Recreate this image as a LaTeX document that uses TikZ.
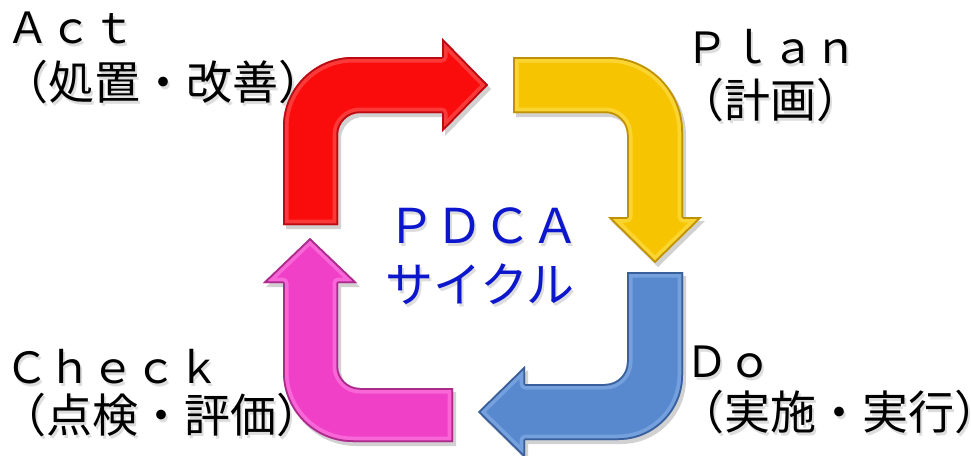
\documentclass[tikz,border=0pt]{standalone}
\usepackage{fontspec}
\newfontfamily\jpfont{Noto Sans CJK JP}
\definecolor{pdcablue}{RGB}{12,22,205}
\definecolor{actbase}{RGB}{250,12,12}
\definecolor{actdark}{RGB}{170,0,10}
\definecolor{actlight}{RGB}{255,95,95}
\definecolor{planbase}{RGB}{246,196,0}
\definecolor{plandark}{RGB}{176,128,0}
\definecolor{planlight}{RGB}{255,228,90}
\definecolor{dobase}{RGB}{88,136,206}
\definecolor{dodark}{RGB}{44,80,140}
\definecolor{dolight}{RGB}{140,180,235}
\definecolor{chkbase}{RGB}{240,64,200}
\definecolor{chkdark}{RGB}{150,30,120}
\definecolor{chklight}{RGB}{255,135,230}

% bent arrow with soft shadow, bevelled rim and dark edge
% #1 path, #2 body colour, #3 rim colour, #4 highlight colour
\newcommand\bentarrow[4]{%
  \fill[black,opacity=0.18,xshift=3pt,yshift=-4pt] #1;
  \fill[#2] #1;
  \begin{scope}
    \clip #1;
    \draw[#4,line width=11pt,opacity=0.55,line join=round] #1;
    \draw[#3,line width=3.5pt,opacity=0.8,line join=round] #1;
  \end{scope}
}

% text with a soft drop shadow: #1 name, #2 position, #3 style, #4 text
\newcommand\softlabel[4]{%
  \node[#3,text=black!60,opacity=0.22,xshift=2pt,yshift=-3.5pt] at (#2) {#4};
  \node[#3] (#1) at (#2) {#4};
}
% full-width brackets whose blank half is trimmed from the box
\newcommand\lbr{\makebox[0.5em][r]{（}}
\newcommand\rbr{\makebox[0.5em][l]{）}}

\begin{document}
\begin{tikzpicture}[x=1pt,y=-1pt,
  eng/.style={anchor=base west,inner sep=0pt,font=\jpfont\fontsize{43}{43}\selectfont},
  jp/.style={anchor=base west,inner sep=0pt,font=\jpfont\fontsize{46}{46}\selectfont},
  ctr/.style={anchor=base,inner sep=0pt,text=pdcablue,font=\jpfont\fontsize{48}{48}\selectfont}]
\useasboundingbox (0,0) rectangle (971,455);
\fill[white] (0,0) rectangle (971,455);

% Act: up then right
\bentarrow{(283,225) -- (283,127) .. controls (283,88.3) and (314.3,57) .. (353,57) -- (442,57) -- (442,38) -- (488,85) -- (442,132) -- (442,113) -- (360,113) .. controls (347.8,113) and (338,122.8) .. (338,135) -- (338,225) -- cycle}{actbase}{actdark}{actlight}

% Plan: right then down
\bentarrow{(513,57) -- (608,57) .. controls (649.4,57) and (683,90.6) .. (683,132) -- (683,217) -- (702,217) -- (655,263) -- (608,217) -- (627,217) -- (627,135) .. controls (627,122.8) and (617.2,113) .. (605,113) -- (513,113) -- cycle}{planbase}{plandark}{planlight}

% Do: down then left
\bentarrow{(627,272) -- (683,272) -- (683,375) .. controls (683,410.9) and (653.9,440) .. (618,440) -- (525,440) -- (525,458) -- (478,412) -- (525,366) -- (525,384) -- (605,384) .. controls (617.2,384) and (627,374.2) .. (627,362) -- cycle}{dobase}{dodark}{dolight}

% Check: left then up
\bentarrow{(453,388) -- (453,442) -- (353,442) .. controls (314.3,442) and (283,410.7) .. (283,372) -- (283,283) -- (263,283) -- (310,238) -- (357,283) -- (338,283) -- (338,366) .. controls (338,378.2) and (347.8,388) .. (360,388) -- cycle}{chkbase}{chkdark}{chklight}

% phase labels
\softlabel{act}{6,43}{eng}{Ａｃｔ}
\softlabel{actjp}{25,99}{jp}{\lbr 処置・改善\rbr}
\softlabel{plan}{685,63}{eng}{Ｐｌａｎ}
\softlabel{planjp}{701,117}{jp}{\lbr 計画\rbr}
\softlabel{do}{685,377}{eng}{Ｄｏ}
\softlabel{dojp}{701,429}{jp}{\lbr 実施・実行\rbr}
\softlabel{check}{5,383}{eng}{Ｃｈｅｃｋ}
\softlabel{checkjp}{23,432}{jp}{\lbr 点検・評価\rbr}

% centre title
\softlabel{title}{483,243}{ctr}{ＰＤＣＡ}
\softlabel{subtitle}{480,302}{ctr}{サイクル}
\end{tikzpicture}
\end{document}
